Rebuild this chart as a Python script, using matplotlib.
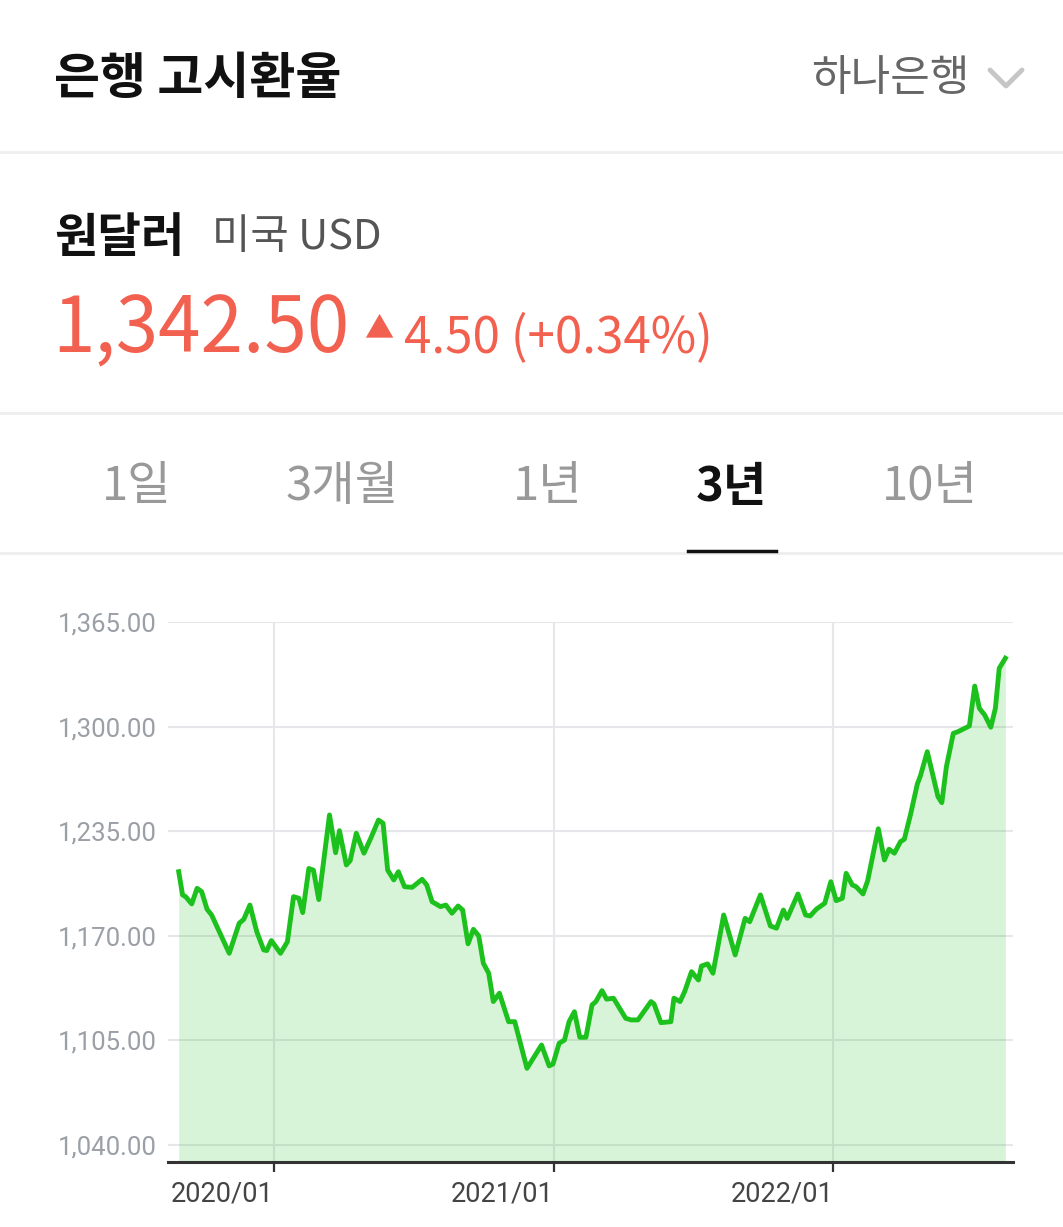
import matplotlib
matplotlib.use('Agg')
import matplotlib.pyplot as plt
import matplotlib.dates as mdates
from matplotlib.lines import Line2D
import numpy as np

plt.rcParams['font.family'] = ['Noto Sans CJK KR', 'DejaVu Sans']

W, H = 1063, 1227

COLOR_LINEA = '#1dc11d'
COLOR_ROJO = '#f2604f'
COLOR_GRID = '#e5e7ea'
COLOR_SEP = '#eeeeee'

# datos
fechas = [
    '2019-08-30', '2019-09-04', '2019-09-08', '2019-09-16', '2019-09-23', '2019-09-29',
    '2019-10-06', '2019-10-12', '2019-11-04', '2019-11-17', '2019-11-23', '2019-12-01',
    '2019-12-10', '2019-12-19', '2019-12-23', '2019-12-29', '2020-01-10', '2020-01-19',
    '2020-01-27', '2020-02-03', '2020-02-08', '2020-02-16', '2020-02-22', '2020-02-29',
    '2020-03-14', '2020-03-22', '2020-03-27', '2020-04-05', '2020-04-10', '2020-04-18',
    '2020-04-28', '2020-05-07', '2020-05-17', '2020-05-23', '2020-05-29', '2020-06-06',
    '2020-06-12', '2020-06-20', '2020-06-30', '2020-07-13', '2020-07-19', '2020-07-26',
    '2020-08-06', '2020-08-13', '2020-08-21', '2020-08-29', '2020-09-04', '2020-09-11',
    '2020-09-18', '2020-09-25', '2020-10-01', '2020-10-08', '2020-10-14', '2020-10-22',
    '2020-11-03', '2020-11-11', '2020-11-27', '2020-12-16', '2020-12-26', '2020-12-31',
    '2021-01-08', '2021-01-15', '2021-01-21', '2021-01-28', '2021-02-04', '2021-02-12',
    '2021-02-20', '2021-02-25', '2021-03-05', '2021-03-11', '2021-03-20', '2021-04-05',
    '2021-04-12', '2021-04-21', '2021-05-08', '2021-05-12', '2021-05-21', '2021-06-03',
    '2021-06-07', '2021-06-15', '2021-06-21', '2021-06-30', '2021-07-09', '2021-07-13',
    '2021-07-21', '2021-07-28', '2021-08-11', '2021-08-26', '2021-09-08', '2021-09-14',
    '2021-09-28', '2021-10-11', '2021-10-19', '2021-10-28', '2021-11-02', '2021-11-16',
    '2021-11-26', '2021-12-02', '2021-12-10', '2021-12-21', '2021-12-29', '2022-01-05',
    '2022-01-13', '2022-01-18', '2022-01-26', '2022-01-31', '2022-02-09', '2022-02-15',
    '2022-03-01', '2022-03-09', '2022-03-15', '2022-03-22', '2022-03-30', '2022-04-04',
    '2022-04-12', '2022-04-21', '2022-04-25', '2022-05-04', '2022-05-18', '2022-05-23',
    '2022-05-29', '2022-06-07', '2022-06-13', '2022-06-28', '2022-07-05', '2022-07-11',
    '2022-07-18', '2022-07-26', '2022-08-01', '2022-08-06', '2022-08-14',
]
valores = [
    1209.8, 1195.4, 1194.3, 1189.8, 1199.5, 1197.4,
    1186.5, 1182.9, 1159.1, 1177.8, 1180.2, 1189.1,
    1172.5, 1161.2, 1160.8, 1167.0, 1159.1, 1166.3,
    1194.3, 1193.3, 1184.4, 1211.8, 1210.8, 1192.5,
    1245.1, 1221.6, 1235.3, 1214.0, 1216.7, 1233.7,
    1221.3, 1230.7, 1241.9, 1239.9, 1210.8, 1204.7,
    1209.8, 1200.5, 1200.1, 1205.1, 1201.6, 1191.2,
    1188.1, 1189.1, 1184.0, 1188.5, 1186.0, 1165.0,
    1174.0, 1169.9, 1152.9, 1146.7, 1129.1, 1134.3,
    1116.6, 1116.6, 1087.6, 1102.1, 1089.1, 1090.3,
    1103.2, 1105.2, 1116.6, 1122.8, 1106.9, 1106.9,
    1127.0, 1129.1, 1135.9, 1130.6, 1131.2, 1118.7,
    1117.7, 1117.7, 1129.1, 1127.6, 1116.0, 1116.6,
    1131.2, 1129.1, 1135.3, 1147.7, 1142.5, 1151.2,
    1152.5, 1146.7, 1182.9, 1158.1, 1180.8, 1178.7,
    1195.4, 1176.1, 1174.7, 1186.0, 1180.8, 1196.0,
    1182.9, 1182.3, 1186.5, 1190.2, 1203.6, 1191.8,
    1193.3, 1208.8, 1201.6, 1200.5, 1196.0, 1204.0,
    1236.5, 1217.1, 1223.8, 1221.3, 1228.5, 1230.0,
    1245.1, 1264.3, 1269.3, 1284.4, 1256.4, 1252.7,
    1275.1, 1295.8, 1296.8, 1300.4, 1325.2, 1311.4,
    1307.2, 1299.6, 1311.4, 1336.2, 1342.5,
]
y_ticks = [1040, 1105, 1170, 1235, 1300, 1365]
x_ticks = ['2020-01-01', '2021-01-01', '2022-01-01']
x_tick_labels = ['2020/01', '2021/01', '2022/01']
tabs = ['1일', '3개월', '1년', '3년', '10년']
tab_activo = '3년'

fig = plt.figure(figsize=(W / 100, H / 100), dpi=100)
fig.patch.set_facecolor('white')


def fx(px):
    return px / W


def fy(py):
    return 1 - py / H


# cabecera
fig.text(fx(54), fy(79), '은행 고시환율', fontsize=36, fontweight='bold', color='#111111', va='center')
fig.text(fx(970), fy(79), '하나은행', fontsize=31, color='#666666', va='center', ha='right')
fig.add_artist(Line2D([fx(990), fx(1006), fx(1022)], [fy(70), fy(86), fy(70)],
                      transform=fig.transFigure, color='#c6c6c6', lw=3.5,
                      solid_capstyle='round', solid_joinstyle='round'))

for yy in (152, 413, 553):
    fig.add_artist(Line2D([0, 1], [fy(yy), fy(yy)], transform=fig.transFigure, color=COLOR_SEP, lw=2))

fig.text(fx(54), fy(238), '원달러', fontsize=34, fontweight='bold', color='#111111', va='center')
fig.text(fx(212), fy(238), '미국 USD', fontsize=30, color='#555555', va='center')

fig.text(fx(52), fy(352), '1,342.50', fontsize=55, color=COLOR_ROJO, va='baseline')
fig.text(fx(364), fy(337), '▲', fontsize=21, color=COLOR_ROJO, va='baseline')
fig.text(fx(404), fy(352), '4.50 (+0.34%)', fontsize=35.5, color=COLOR_ROJO, va='baseline')

tab_x = [137, 342, 548, 731, 930]
for t, xx in zip(tabs, tab_x):
    activo = t == tab_activo
    fig.text(fx(xx), fy(487), t, fontsize=34, ha='center', va='center',
             color='#111111' if activo else '#999999',
             fontweight='bold' if activo else 'normal')
fig.add_artist(Line2D([fx(688), fx(776)], [fy(551), fy(551)], transform=fig.transFigure,
                      color='#111111', lw=2.5))

# grafico
ax = fig.add_axes([fx(168), fy(1162), (1013 - 168) / W, (1162 - 622) / H])
x = mdates.datestr2num(fechas)
ax.plot(x, valores, color=COLOR_LINEA, lw=3.5, zorder=3, solid_joinstyle='round')
ax.fill_between(x, valores, 1000, color=COLOR_LINEA, alpha=0.17, lw=0, zorder=2)

ax.set_ylim(1029.4, 1365)
ax.set_xlim(mdates.datestr2num('2019-08-16'), mdates.datestr2num('2022-08-24'))
ax.set_yticks(y_ticks)
ax.set_yticklabels([f'{v:,.2f}' for v in y_ticks])
ax.set_xticks(mdates.datestr2num(x_ticks))
ax.set_xticklabels(x_tick_labels, ha='right')

ax.grid(True, color=COLOR_GRID, lw=1.5, zorder=1)
ax.set_axisbelow(True)
for s in ['top', 'right', 'left']:
    ax.spines[s].set_visible(False)
ax.spines['bottom'].set_color('#333333')
ax.spines['bottom'].set_linewidth(2.2)

ax.tick_params(axis='y', length=0, pad=8, labelsize=18.5, labelcolor='#9aa0a6')
ax.tick_params(axis='x', direction='out', length=7, width=1.6, color='#333333',
               pad=6, labelsize=19.5, labelcolor='#444444')
for lbl in ax.get_xticklabels() + ax.get_yticklabels():
    lbl.set_family(['Roboto', 'DejaVu Sans'])

fig.savefig('out.png', dpi=100, facecolor='white')
